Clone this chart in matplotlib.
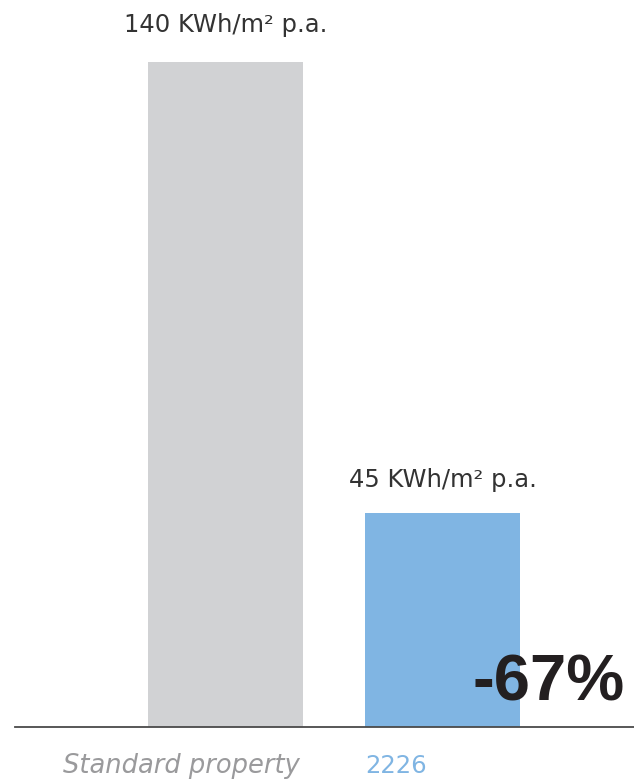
import matplotlib.pyplot as plt
import matplotlib.transforms as mtransforms

categories = ['Standard property', '2226']
values = [140, 45]
value_labels = ['140 KWh/m² p.a.', '45 KWh/m² p.a.']
change_label = '-67%'

bar_colors = ['#d1d2d4', '#80b5e3']
label_colors = ['#9a9a9c', '#80b5e3']

plt.rcParams['font.family'] = ['DejaVu Sans']

fig = plt.figure(figsize=(6.34, 7.79), dpi=100)
# axes from x=15px to the right edge, baseline 52px above the bottom
ax = fig.add_axes([15 / 634, 52 / 779, 619 / 634, 727 / 779])

x = [0, 1]
ax.bar(x, values, width=0.714, color=bar_colors, zorder=1)
ax.set_xlim(-0.970, 1.8825)
ax.set_ylim(0, 153.05)

for s in ['top', 'right', 'left']:
    ax.spines[s].set_visible(False)
ax.spines['bottom'].set_color('#4a4a4a')
ax.spines['bottom'].set_linewidth(1.3)
ax.set_xticks([])
ax.set_yticks([])

# value labels above the bars
offsets = [21.5, 19.0]
for xi, v, lab, off in zip(x, values, value_labels, offsets):
    ax.annotate(lab, (xi, v), xytext=(0, off), textcoords='offset points',
                ha='center', va='baseline', fontsize=17.5, color='#333333')

# category labels below the axis
trans = mtransforms.blended_transform_factory(ax.transData, ax.transAxes)
ax.text(0.357 - 0.014, -0.0633, categories[0], transform=trans, ha='right',
        va='baseline', fontsize=18.5, style='italic', color=label_colors[0])
ax.text(1 - 0.357, -0.0633, categories[1], transform=trans, ha='left',
        va='baseline', fontsize=17.5, color=label_colors[1])

ax.text(1.841, 5.68, change_label, ha='right', va='baseline', fontsize=47,
        fontweight='bold', family=['Liberation Sans', 'DejaVu Sans'],
        color='#231f20', zorder=3)

fig.savefig('out.png', dpi=100)
